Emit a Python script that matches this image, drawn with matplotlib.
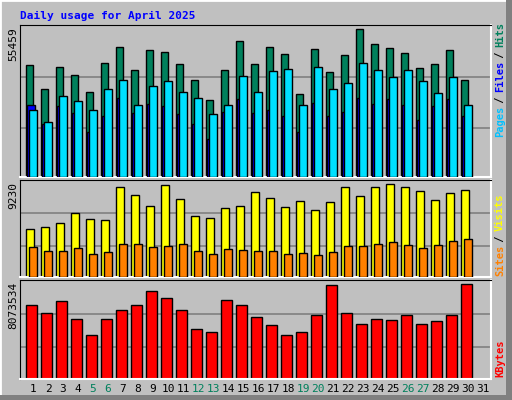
import matplotlib
matplotlib.use("Agg")
import matplotlib.pyplot as plt
from matplotlib.patches import Rectangle

days = list(range(1, 32))
hits = [40737,31929,40003,37067,31195,41471,47343,38902,46242,45508,41104,35232,28259,38902,49545,41104,
        47343,44774,30461,46609,38168,44407,53949,48444,46976,45141,39636,41104,46242,35232]
files = [26424,19451,26057,23488,16515,22387,28993,23488,26791,26057,23121,19451,13946,23855,28626,23488,
         24589,22387,16515,27158,22387,23855,28993,26791,28626,26424,20919,26057,28626,22387]
pages = [24589,20185,29727,27892,24589,31929,35232,26424,33030,34865,31195,28993,23121,26424,36700,31195,
         38535,39269,26424,40003,31929,34131,41471,38902,36333,38902,34865,30828,36333,26424]
visits = [4535,4728,5113,6078,5499,5403,8587,7815,6754,8780,7429,5789,5596,6561,6754,8104,
          7525,6657,7236,6368,7140,8587,7718,8587,8876,8587,8201,7332,8008,8297]
sites = [2894,2508,2508,2798,2219,2412,3184,3184,2894,2991,3184,2508,2219,2701,2605,2508,
         2508,2219,2315,2123,2412,2991,2991,3184,3377,3087,2798,3087,3473,3570]
kbytes = [6055000,5373000,6396000,4861000,3582000,4861000,5629000,6055000,7164000,6567000,5629000,4094000,
          3838000,6482000,6055000,5032000,4435000,3582000,3838000,5202000,7676000,5373000,4520000,4861000,
          4776000,5202000,4520000,4691000,5202000,7761000]
max_hits, max_visits, max_kb = 55459, 9230, 8073534
weekend = [5, 6, 12, 13, 19, 20, 26, 27]

BG = "#C0C0C0"
fig = plt.figure(figsize=(5.12, 4.0), dpi=100, facecolor=BG)
mono = "DejaVu Sans Mono"
fig.patches.append(Rectangle((0, 0), 1, 1, transform=fig.transFigure, fill=False, ec="white", lw=2))
fig.patches.append(Rectangle((0.988, 0), 0.012, 1, transform=fig.transFigure, fc="#808080", ec="none"))
fig.patches.append(Rectangle((0, 0), 1, 0.012, transform=fig.transFigure, fc="#808080", ec="none"))

def px(x0, y0, x1, y1):
    return [x0/512, 1-y1/400, (x1-x0)/512, (y1-y0)/400]

n = len(hits)
xs = days[:n]
def mk(rect, ymax):
    ax = fig.add_axes(rect)
    ax.set_facecolor(BG)
    ax.set_xlim(0.133, 31.53)
    ax.set_ylim(0, ymax)
    for f in (0.32, 0.655):
        ax.axhline(ymax*f, color="#808080", lw=1.2, zorder=0)
    ax.set_xticks([]); ax.set_yticks([])
    for s in ("left", "top"):
        ax.spines[s].set_color("black")
    for s in ("right", "bottom"):
        ax.spines[s].set_color("white")
        ax.spines[s].set_linewidth(1.5)
    return ax

ax1 = mk(px(20, 25, 491, 177), max_hits)
ax1.bar([x-0.265 for x in xs], hits, width=0.47, color="#00805C", ec="black", lw=1, zorder=2)
ax1.bar([x-0.135 for x in xs], files, width=0.47, color="#0000FF", ec="black", lw=1, zorder=3)
ax1.bar(xs, pages, width=0.48, color="#00E0FF", ec="black", lw=1, zorder=4)

ax2 = mk(px(20, 180, 491, 277), max_visits)
ax2.bar([x-0.23 for x in xs], visits, width=0.54, color="#FFFF00", ec="black", lw=1, zorder=2)
ax2.bar(xs, sites, width=0.48, color="#FF8000", ec="black", lw=1, zorder=3)

ax3 = mk(px(20, 280, 491, 379), max_kb)
ax3.bar([x-0.1 for x in xs], kbytes, width=0.68, color="#FF0000", ec="black", lw=1, zorder=2)

for d in days:
    fig.text((33+15*(d-1))/512, 1-389/400, str(d), ha="center", va="center", family=mono, fontsize=8,
             color="#00805C" if d in weekend else "black")

fig.text(20/512, 1-16/400, "Daily usage for April 2025", family=mono, fontsize=8, fontweight="bold",
         color="#0000FF", va="center")
for y, lab in ((27, "55459"), (182, "9230"), (282, "8073534")):
    fig.text(13/512, 1-y/400, lab, rotation=90, ha="center", va="top", family=mono, fontsize=8)

def rlabel(y_bottom, parts):
    y = 1 - y_bottom/400
    for txt, col in parts:
        fig.text(500/512, y, txt, rotation=90, ha="center", va="bottom", family=mono, fontsize=7.5,
                 color=col, fontweight="bold")
        y += len(txt) * 5.6/400

rlabel(137, [("Pages", "#00C0FF"), (" / ", "#000000"), ("Files", "#0000FF"), (" / ", "#000000"), ("Hits", "#00805C")])
rlabel(276, [("Sites", "#FF8000"), (" / ", "#000000"), ("Visits", "#FFFF00")])
rlabel(377, [("KBytes", "#FF0000")])

fig.savefig("out.png", dpi=100, facecolor=BG)
